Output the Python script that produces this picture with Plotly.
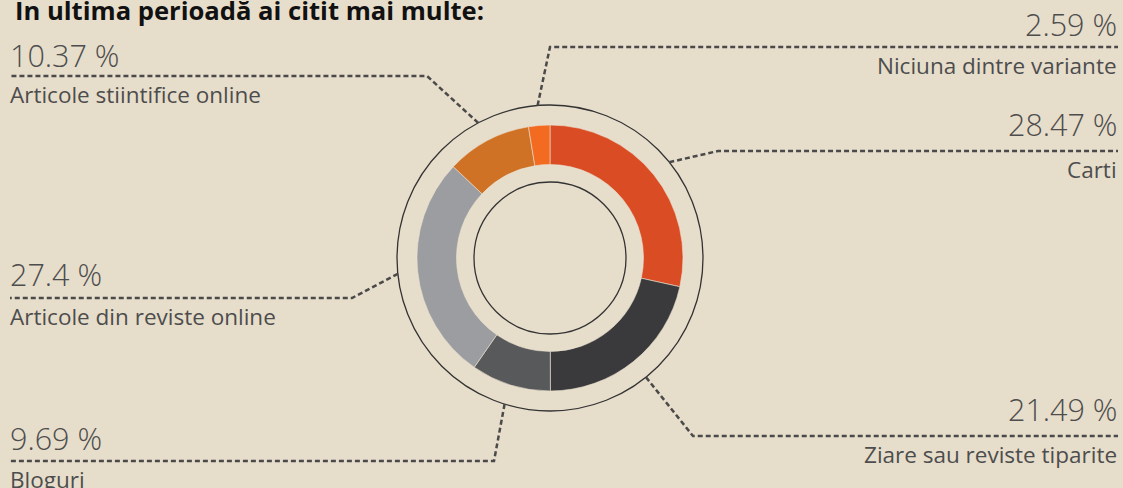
import math
import plotly.graph_objects as go

# ---- data ----
categories = ["Carti", "Ziare sau reviste tiparite", "Bloguri",
              "Articole din reviste online", "Articole stiintifice online",
              "Niciuna dintre variante"]
values = [28.47, 21.49, 9.69, 27.4, 10.37, 2.59]
value_labels = ["28.47 %", "21.49 %", "9.69 %", "27.4 %", "10.37 %", "2.59 %"]
colors = ["#DA4C24", "#3A3A3C", "#58595B", "#9C9DA0", "#D07226", "#F36A21"]

# ---- label layout (annotation placement) ----
label_side = ["right", "right", "left", "left", "left", "right"]
label_line_y = [151, 436, 461, 298, 76, 47]
elbow_x = [718, 693, 494, 352, 427, 550]
value_dy = [-27.5, -27.5, -23.5, -24.5, -21.5, -23.5]

W, H = 1123, 488
CX, CY = 550, 258
R_OUT, R_IN = 133, 93.5
RING, INNER_RING = 153, 76
BG = "#E7DDCB"
LINE_COL = "#4A4A4A"
TXT_COL = "#4D4D4D"
FONT = "Open Sans"

fig = go.Figure()

fig.add_trace(go.Pie(
    labels=categories, values=values, sort=False, direction="clockwise",
    rotation=0, hole=R_IN / R_OUT, textinfo="none", hoverinfo="label+percent",
    marker=dict(colors=colors, line=dict(color="#E9E0D0", width=0.6)),
    domain=dict(x=[(CX - R_OUT) / W, (CX + R_OUT) / W],
                y=[(H - CY - R_OUT) / H, (H - CY + R_OUT) / H]),
    showlegend=False,
))

shapes = []
for r in (RING, INNER_RING):
    shapes.append(dict(type="circle", xref="x", yref="y",
                       x0=CX - r, x1=CX + r, y0=CY - r, y1=CY + r,
                       line=dict(color="#333333", width=1.3)))

total = sum(values)
annotations = []
cum = 0.0
for i, v in enumerate(values):
    mid = (cum + v / 2) / total * 2 * math.pi
    cum += v
    sx = CX + RING * math.sin(mid)
    sy = CY - RING * math.cos(mid)
    ly = label_line_y[i]
    ex = elbow_x[i]
    endx = 1118 if label_side[i] == "right" else 10
    path = f"M {sx:.1f} {sy:.1f} L {ex} {ly} L {endx} {ly}"
    shapes.append(dict(type="path", xref="x", yref="y", path=path,
                       line=dict(color=LINE_COL, width=2.5, dash="5px,3px")))
    anchor = "right" if label_side[i] == "right" else "left"
    tx = 1119 if label_side[i] == "right" else 8
    annotations.append(dict(x=tx, y=ly + value_dy[i], xref="x", yref="y", text=value_labels[i],
                            showarrow=False, xanchor=anchor, yanchor="middle",
                            font=dict(family=FONT, size=30.5, color=TXT_COL, weight=300)))
    annotations.append(dict(x=tx, y=ly + 18, xref="x", yref="y", text=categories[i],
                            showarrow=False, xanchor=anchor, yanchor="middle",
                            font=dict(family=FONT, size=22.5, color=TXT_COL)))

annotations.append(dict(x=13, y=10, xref="x", yref="y",
                        text="<b>In ultima perioadă ai citit mai multe:</b>",
                        showarrow=False, xanchor="left", yanchor="middle",
                        font=dict(family=FONT, size=25.6, color="#111111")))

fig.update_layout(
    width=W, height=H, paper_bgcolor=BG, plot_bgcolor=BG,
    margin=dict(l=0, r=0, t=0, b=0),
    xaxis=dict(range=[0, W], visible=False, fixedrange=True),
    yaxis=dict(range=[H, 0], visible=False, fixedrange=True),
    shapes=shapes, annotations=annotations,
)

fig.write_html("out.html", config={"displayModeBar": False},
               post_script="document.body.style.margin='0';document.body.style.overflow='hidden';")
